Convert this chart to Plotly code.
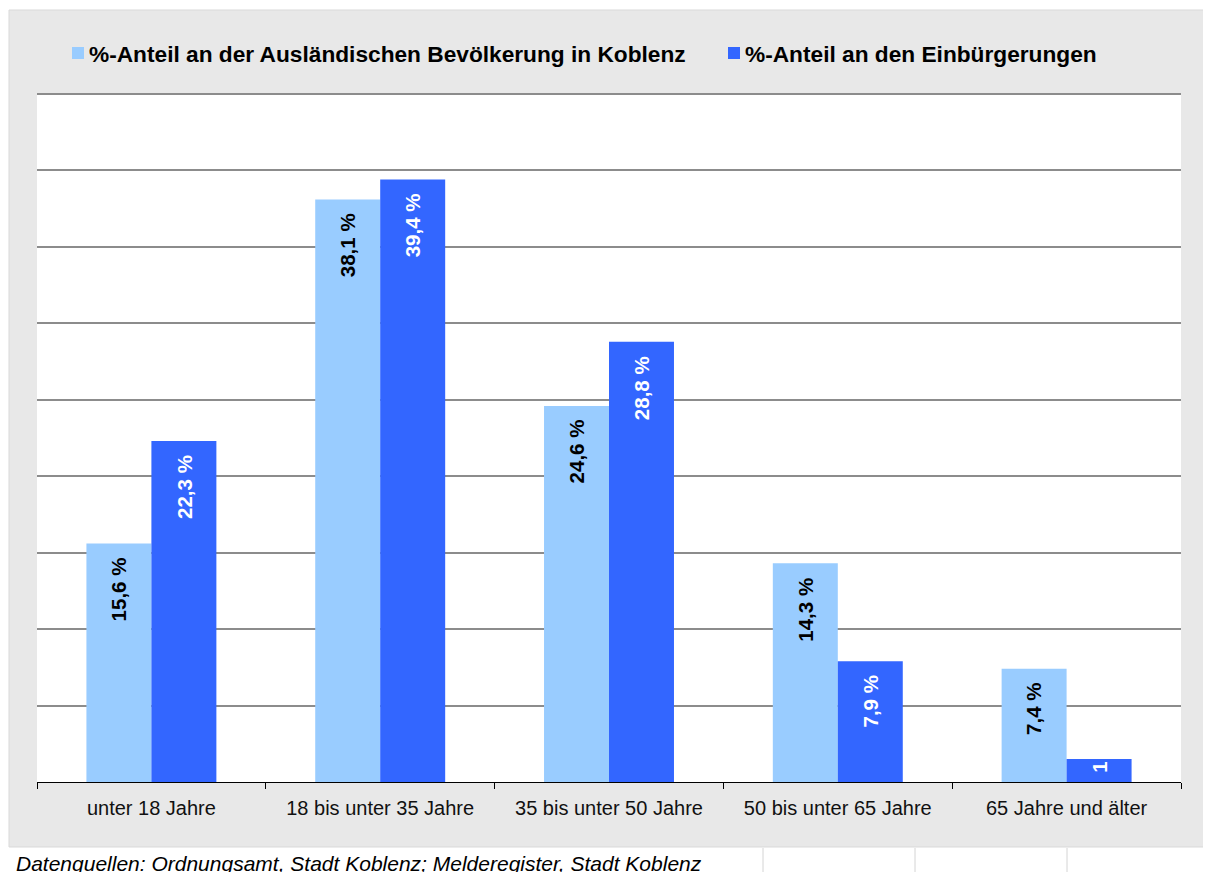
import plotly.graph_objects as go

categories = ["unter 18 Jahre", "18 bis unter 35 Jahre", "35 bis unter 50 Jahre",
              "50 bis unter 65 Jahre", "65 Jahre und älter"]
series1_name = "%-Anteil an der Ausländischen Bevölkerung in Koblenz"
series2_name = "%-Anteil an den Einbürgerungen"
series1_values = [15.6, 38.1, 24.6, 14.3, 7.4]
series2_values = [22.3, 39.4, 28.8, 7.9, 1.5]
series1_labels = ["15,6 %", "38,1 %", "24,6 %", "14,3 %", "7,4 %"]
series2_labels = ["22,3 %", "39,4 %", "28,8 %", "7,9 %", "1"]
source_text = "Datenquellen: Ordnungsamt, Stadt Koblenz; Melderegister, Stadt Koblenz"

OFF = 8  # page body margin in the browser
W, H = 1211 - OFF, 872 - OFF
L, R = 37 - OFF, 1181 - OFF
B = 782 - OFF
TOPGRID = 94 - OFF
T = TOPGRID - 3
YMAX_GRID = 45
YTOP = YMAX_GRID * (B - T) / (B - TOPGRID)
pw, ph = R - L, B - T


def px(x):
    return (x - OFF - L) / pw


def py(y):
    return (B - (y - OFF)) / ph


FONT = "Liberation Sans, Arial, sans-serif"
LIGHT = "#99CCFF"
DARK = "#3366FF"
BARGAP = 0.432
bar_px = pw / len(categories) * (1 - BARGAP) / 2

fig = go.Figure()
fig.add_trace(go.Bar(x=categories, y=series1_values, name=series1_name,
                     marker=dict(color=LIGHT, line=dict(width=0)), hoverinfo="skip"))
fig.add_trace(go.Bar(x=categories, y=series2_values, name=series2_name,
                     marker=dict(color=DARK, line=dict(width=0)), hoverinfo="skip"))

annotations = []
for vals, labs, sign, col in [(series1_values, series1_labels, -1, "black"),
                              (series2_values, series2_labels, 1, "white")]:
    for c, v, t in zip(categories, vals, labs):
        pad = 12 if v > 3 else 1
        annotations.append(dict(
            x=c, y=v, xref="x", yref="y", text=t, showarrow=False,
            textangle=-90, xanchor="center", yanchor="top",
            xshift=sign * bar_px / 2, yshift=-pad,
            font=dict(family=FONT, size=20.5, color=col, weight="bold")))

# legend (drawn as keys + texts)
legend_items = [(series1_name, LIGHT, 72), (series2_name, DARK, 728)]
shapes = [
    dict(type="rect", xref="paper", yref="paper", layer="below",
         x0=px(9), x1=px(1215), y0=py(847), y1=py(10),
         fillcolor="#E8E8E8", line=dict(color="#D9D9D9", width=1)),
    dict(type="rect", xref="paper", yref="paper", layer="below",
         x0=0, x1=1, y0=0, y1=py(94 - 1), fillcolor="white", line=dict(width=0)),
]
for cx in [763, 915, 1067]:
    shapes.append(dict(type="line", xref="paper", yref="paper", layer="below",
                       x0=px(cx), x1=px(cx), y0=py(848), y1=py(880),
                       line=dict(color="#D4D4D4", width=1)))
for name, col, x0 in legend_items:
    shapes.append(dict(type="rect", xref="paper", yref="paper",
                       x0=px(x0), x1=px(x0 + 12), y0=py(59), y1=py(47),
                       fillcolor=col, line=dict(width=0)))
    annotations.append(dict(text=name, xref="paper", yref="paper",
                            x=px(x0 + 15), y=py(54), xanchor="left", yanchor="middle",
                            showarrow=False,
                            font=dict(family=FONT, size=22.7, color="black", weight="bold")))

annotations.append(dict(text=source_text, xref="paper", yref="paper",
                        x=px(14), y=py(850), xanchor="left", yanchor="top",
                        showarrow=False,
                        font=dict(family=FONT, size=21, color="black", style="italic")))

fig.update_layout(
    width=W, height=H,
    margin=dict(l=L, r=W - R, t=T, b=H - B, pad=0),
    paper_bgcolor="white", plot_bgcolor="rgba(0,0,0,0)",
    barmode="group", bargap=BARGAP, bargroupgap=0,
    font=dict(family=FONT, color="black"),
    showlegend=False,
    xaxis=dict(showline=True, linecolor="black", linewidth=1,
               ticks="outside", tickson="boundaries", ticklen=6, tickcolor="black",
               tickwidth=1, ticklabelstandoff=8,
               tickfont=dict(family=FONT, size=20, color="#111111"),
               showgrid=False, fixedrange=True),
    yaxis=dict(range=[0, YTOP], dtick=5, showticklabels=False, showgrid=True,
               gridcolor="#8C8C8C", gridwidth=2, zeroline=False, showline=False,
               fixedrange=True),
    shapes=shapes,
    annotations=annotations,
)

fig.write_html("out.html")
